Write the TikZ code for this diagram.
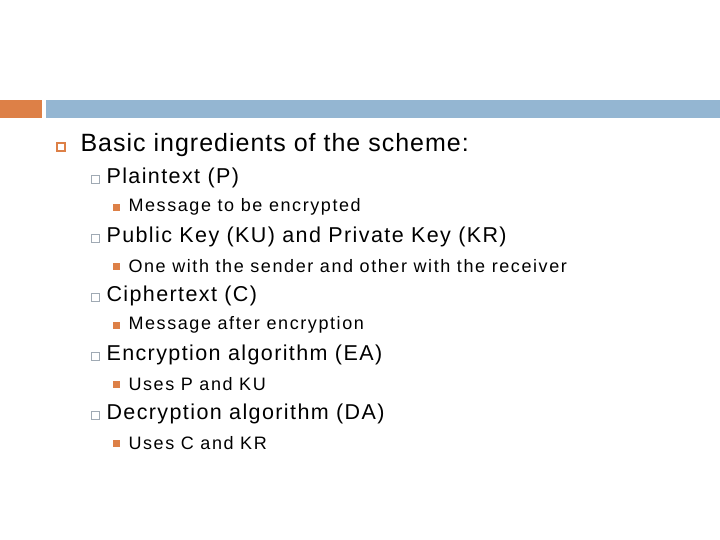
\documentclass[tikz,border=0pt]{standalone}
\usepackage{fontspec}
\setmainfont{Liberation Sans}
\definecolor{org}{RGB}{221,128,71}
\definecolor{blu}{RGB}{148,182,210}
\definecolor{gry}{RGB}{160,170,180}
\begin{document}
\begin{tikzpicture}[x=1pt,y=-1pt,
  lone/.style={anchor=west,font=\fontsize{25}{28}\selectfont\addfontfeature{LetterSpace=4}},
  ltwo/.style={anchor=west,font=\fontsize{21.5}{24}\selectfont\addfontfeature{LetterSpace=6.5}},
  lthree/.style={anchor=west,font=\fontsize{18}{21}\selectfont\addfontfeature{LetterSpace=8.8}}]
\useasboundingbox (0,0) rectangle (720,540);
\fill[org] (0,100) rectangle (42,118);
\fill[blu] (46,100) rectangle (720,118);
\draw[org,line width=1.6pt] (57,143) rectangle (65,151);
\node[lone] (t0) at (77,145) {Basic ingredients of the scheme:};
\foreach \y/\a/\b [count=\i] in {178/Plaintext (P)/Message to be encrypted,
  237/Public Key (KU) and Private Key (KR)/One with the sender and other with the receiver,
  296/Ciphertext (C)/Message after encryption,
  355/Encryption algorithm (EA)/Uses P and KU,
  414/Decryption algorithm (DA)/Uses C and KR}{
  \draw[gry,line width=0.7pt] (91,\y-3) rectangle (99,\y+5);
  \node[ltwo] (a\i) at (103,\y) {\a};
  \fill[org] (113,\y+26) rectangle (120,\y+33);
  \node[lthree] (b\i) at (125,\y+29) {\b};
}
\end{tikzpicture}
\end{document}
